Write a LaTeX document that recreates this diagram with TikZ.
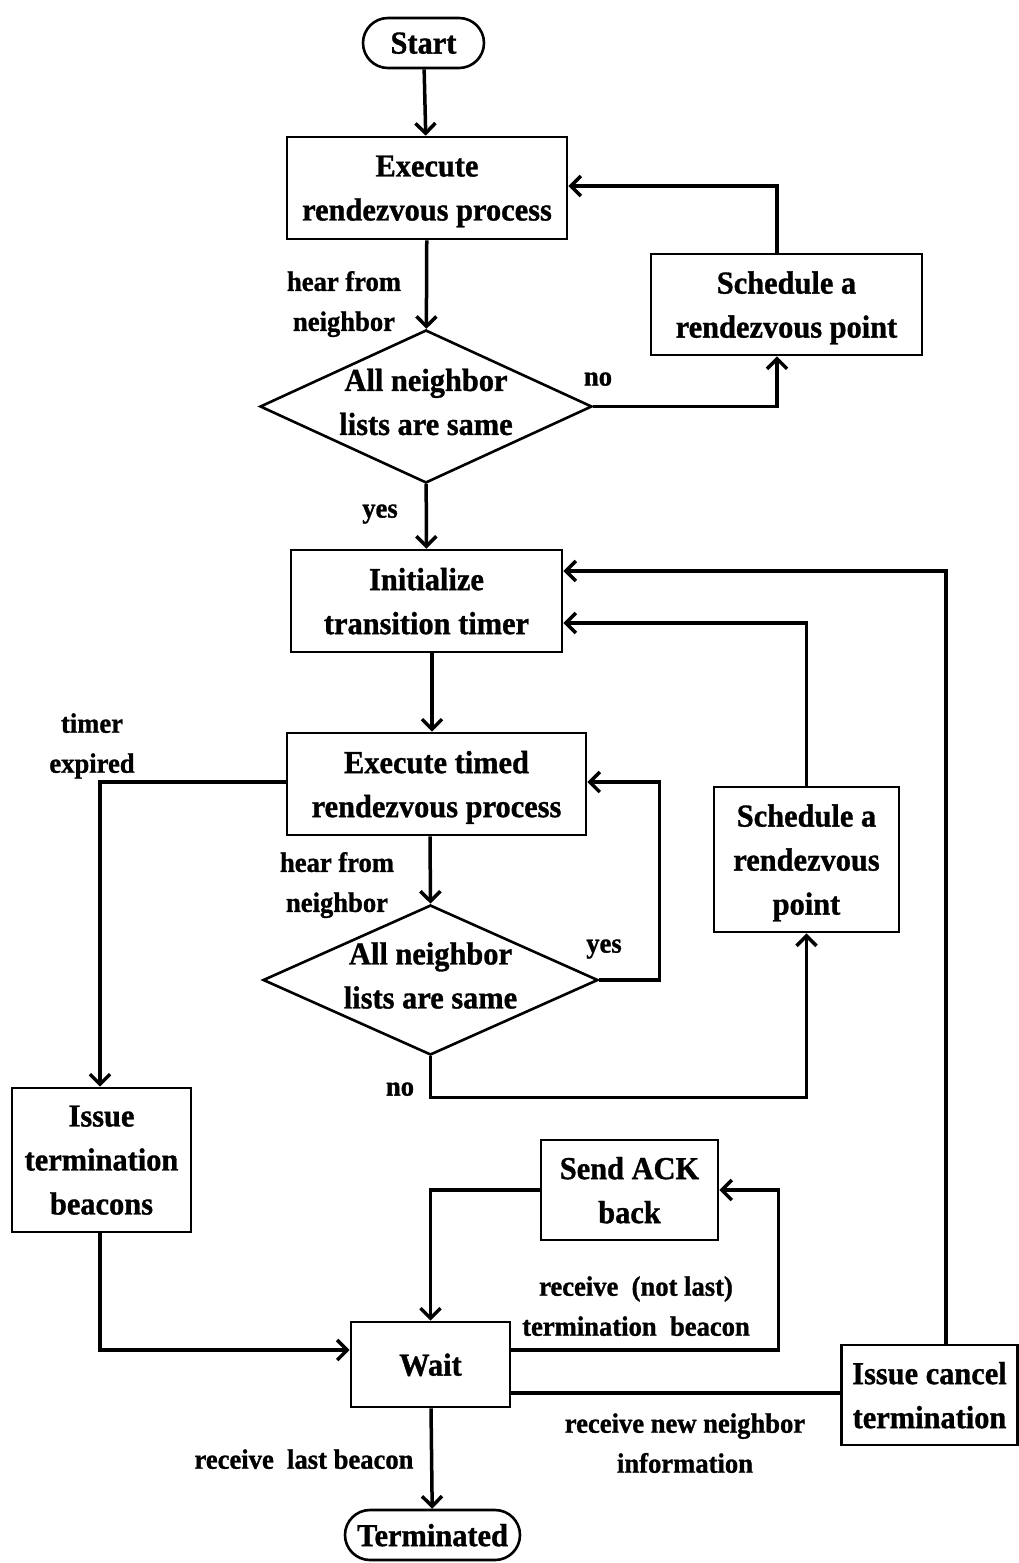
\documentclass[tikz,border=0pt]{standalone}
\usepackage{fontspec}
\setmainfont{Liberation Serif}[FakeStretch=0.95,FakeBold=1]
\usetikzlibrary{shapes.geometric,arrows.meta}
\begin{document}
\begin{tikzpicture}[x=1pt,y=-1pt,
  font=\bfseries\fontsize{32}{44}\selectfont,
  box/.style={draw,line width=2.6pt,inner sep=0pt,align=center,text depth=0pt},
  term/.style={box,rounded corners=25pt},
  dia/.style={draw,diamond,line width=2.6pt,inner sep=0pt},
  lab/.style={align=center,inner sep=0pt,text depth=0pt,font=\bfseries\fontsize{28}{40}\selectfont},
  arr/.style={line width=3.5pt,-{Straight Barb[length=10pt,width=20pt,line width=3.5pt]}},
  ln/.style={line width=3.5pt}]
\useasboundingbox (0,0) rectangle (1019,1563);
\node[term,minimum width=121pt,minimum height=50pt] (start) at (423.5,43) {Start};
\node[box,minimum width=280pt,minimum height=102pt] (exec) at (427,188) {Execute\\rendezvous process};
\node[dia,minimum width=332pt,minimum height=153pt,label={[align=center,yshift=4.5pt]center:All neighbor\\lists are same}] (d1) at (426,406.5) {};
\node[box,minimum width=271pt,minimum height=101pt] (sch1) at (786.5,304.5) {Schedule a\\rendezvous point};
\node[box,minimum width=271pt,minimum height=102pt] (init) at (426.5,601) {Initialize\\transition timer};
\node[box,minimum width=299pt,minimum height=102pt] (texec) at (436.5,784) {Execute timed\\rendezvous process};
\node[dia,minimum width=335pt,minimum height=150pt,label={[align=center,yshift=4.5pt]center:All neighbor\\lists are same}] (d2) at (430.5,980) {};
\node[box,minimum width=185pt,minimum height=145pt] (sch2) at (806.5,859.5) {Schedule a\\rendezvous\\point};
\node[box,minimum width=179pt,minimum height=144pt] (beac) at (101.5,1160) {Issue\\termination\\beacons};
\node[box,minimum width=177pt,minimum height=100pt] (ack) at (629.5,1190) {Send ACK\\back};
\node[box,minimum width=159pt,minimum height=85pt] (wait) at (430.5,1364.5) {Wait};
\node[box,minimum width=176pt,minimum height=100pt] (cancel) at (929.5,1395) {Issue cancel\\termination};
\node[term,minimum width=175pt,minimum height=50pt] (term) at (432.5,1535) {Terminated};

\node[lab] (l1) at (344,301) {hear from\\neighbor};
\node[lab] (l2) at (598,379) {no};
\node[lab] (l3) at (380,511) {yes};
\node[lab] (l4) at (337,882) {hear from\\neighbor};
\node[lab] (l5) at (604,946) {yes};
\node[lab] (l6) at (400,1089) {no};
\node[lab] (l7) at (92,743) {timer\\expired};
\node[lab] (l8) at (636,1306) {receive\ \ (not last)\\termination\ \ beacon};
\node[lab] (l9) at (685,1443) {receive new neighbor\\information};
\node[lab] (l10) at (304,1459) {receive\ \ last beacon};

\draw[arr] (start) -- (exec);
\draw[arr] (exec) -- (d1);
\draw[arr] (d1.east) -| ([xshift=-9.5pt]sch1.south);
\draw[arr] ([xshift=-9.5pt]sch1.north) |- ([yshift=2pt]exec.east);
\draw[arr] (d1) -- (init);
\draw[arr] ([xshift=5.5pt]init.south) -- ([xshift=-4.5pt]texec.north);
\draw[arr] ([xshift=-6.5pt]texec.south) -- (d2.north);
\draw[arr] (d2.east) -- ++(60,0) |- ([yshift=2pt]texec.east);
\draw[arr] (d2.south) -- ++(0,41) -| (sch2.south);
\draw[arr] (sch2.north) |- ([yshift=-22pt]init.east);
\draw[arr] ([xshift=16.5pt]cancel.north) |- ([yshift=30pt]init.east);
\draw[arr] ([yshift=2pt]texec.west) -| ([xshift=-1.5pt]beac.north);
\draw[arr] ([xshift=-1.5pt]beac.south) |- ([yshift=14.5pt]wait.west);
\draw[arr] ([yshift=14.5pt]wait.east) -- ++(267,0) |- (ack.east);
\draw[arr] (ack.west) -| (wait.north);
\draw[ln] ([yshift=-28.5pt]wait.east) -- ([yshift=-28.5pt]wait.east -| cancel.west);
\draw[arr] (wait) -- (term);
\end{tikzpicture}
\end{document}
